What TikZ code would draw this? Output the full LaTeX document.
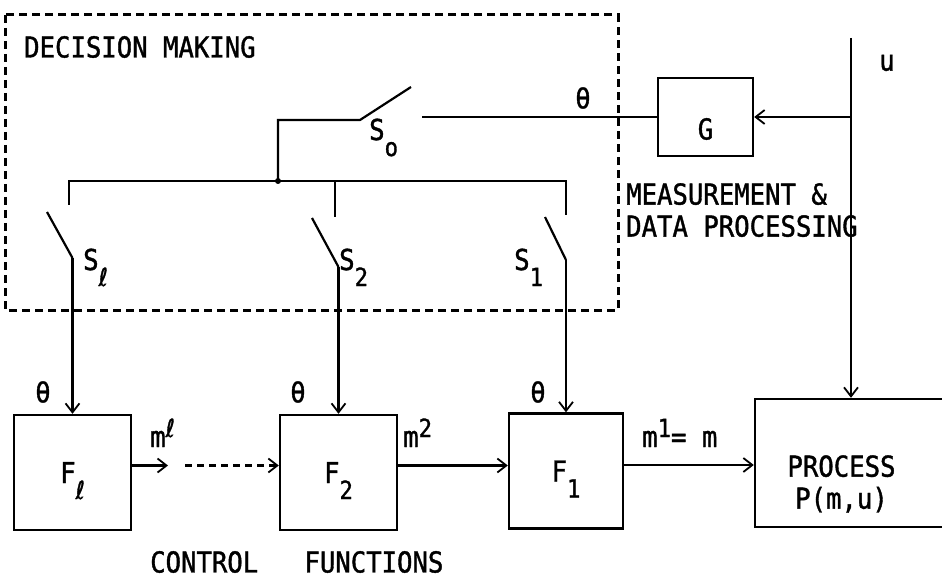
\documentclass[tikz,border=0pt]{standalone}
\usepackage{fontspec}
\setmainfont{DejaVu Sans Mono}[FakeStretch=0.89, FakeBold=1.3]
\newfontfamily\scriptl{DejaVu Sans}[FakeStretch=0.89, FakeBold=1.3]
\usetikzlibrary{arrows.meta}

\newcommand{\lsym}{{\scriptl ℓ}}
\newcommand{\dsub}[1]{\raisebox{-16pt}{\fontsize{25}{25}\selectfont #1}}
\newcommand{\usup}[1]{\raisebox{10pt}{\fontsize{25}{25}\selectfont #1}}

\tikzset{
    lbl/.style={font=\fontsize{28.8}{32}\selectfont, inner sep=0pt},
    blk/.style={draw, lbl, line width=2.4pt, minimum width=117pt, minimum height=115pt, text depth=0pt},
    wire/.style={line width=2.2pt},
    sig/.style={wire, -{Straight Barb[length=9pt,width=14pt,line width=1.8pt]}},
    frame/.style={line width=3pt, dash pattern=on 8pt off 5pt},
}

\begin{document}
\begin{tikzpicture}[x=1pt, y=-1pt]
    \useasboundingbox (0,0) rectangle (942,580);

    % decision making
    \draw[frame] (5,15) rectangle (618,310);
    \node[lbl, anchor=west] (dm) at (24,47) {DECISION MAKING};

    % blocks
    \node[blk] (fl) at (72.5,472.5) {F\dsub{\lsym}};
    \node[blk] (ftwo) at (338.5,472.5) {F\dsub{2}};
    \node[blk, minimum width=114pt] (fone) at (566,471) {F\dsub{1}};
    \node[blk, minimum width=95pt, minimum height=78pt,
          label={[lbl, yshift=-12pt]center:G}] (gbox) at (705.5,117) {};
    \node[blk, minimum width=189pt, minimum height=128pt,
          label={[lbl, align=center, xshift=-8pt, yshift=-21pt]center:{PROCESS\\P(m,u)}}] (proc) at (849.5,463) {};

    % switch points
    \coordinate (jct) at (278,181);
    \coordinate (szero-piv) at (360,120);
    \coordinate (szero-tip) at (411,87);
    \coordinate (szero-ct) at (422,117);
    \coordinate (sl-top) at (69,205);
    \coordinate (sl-tip) at (47,212);
    \coordinate (sl-piv) at (72.5,258);
    \coordinate (stwo-top) at (335,217);
    \coordinate (stwo-tip) at (312,218);
    \coordinate (stwo-piv) at (338.5,267);
    \coordinate (sone-top) at (566,215);
    \coordinate (sone-tip) at (545,217);
    \coordinate (sone-piv) at (566,260);
    \coordinate (utop) at (851,38);
    \coordinate (ujn) at (851,117);

    % bus and switches
    \draw[wire] (sl-top) |- (jct) -| (sone-top);
    \draw[wire] (jct -| stwo-top) -- (stwo-top);
    \draw[wire] (jct) |- (szero-piv) -- (szero-tip);
    \fill (jct) circle (3pt);
    \draw[wire] (szero-ct) -- (gbox.west);
    \draw[wire] (sl-tip) -- (sl-piv);
    \draw[wire] (stwo-tip) -- (stwo-piv);
    \draw[wire] (sone-tip) -- (sone-piv);
    \draw[sig] (sl-piv) -- (fl.north);
    \draw[sig] (stwo-piv) -- (ftwo.north);
    \draw[sig] (sone-piv) -- (fone.north);

    \node[lbl, anchor=base west] (slbl-0) at (369,140) {S\dsub{o}};
    \node[lbl, anchor=base west] (slbl-l) at (83,270) {S\dsub{\lsym}};
    \node[lbl, anchor=base west] (slbl-2) at (339,270) {S\dsub{2}};
    \node[lbl, anchor=base west] (slbl-1) at (514,270) {S\dsub{1}};

    % input u and measurement
    \draw[sig] (utop) -- (utop |- proc.north);
    \draw[sig] (ujn) -- (gbox.east);
    \node[lbl] (ulbl) at (887,63) {u};
    \node[lbl] (thg) at (583,98) {θ};
    \node[lbl, anchor=north west, align=left] (mdp) at (626,183) {MEASUREMENT \&\\DATA PROCESSING};

    % control chain
    \coordinate (mlend) at (168,465.5);
    \coordinate (mdots) at (185,465.5);
    \draw[sig] ([yshift=7pt]fl.east) -- (mlend);
    \draw[sig, dash pattern=on 7pt off 5pt] (mdots) -- (ftwo.west |- mdots);
    \draw[sig] ([yshift=7pt]ftwo.east) -- ([yshift=7pt]ftwo.east -| fone.west);
    \draw[sig] ([yshift=6pt]fone.east) -- ([yshift=6pt]fone.east -| proc.west);

    \node[lbl, anchor=base west] (ml) at (150,447) {m\usup{\lsym}};
    \node[lbl, anchor=base west] (mtwo) at (403,447) {m\usup{2}};
    \node[lbl, anchor=base west] (mone) at (642,447) {m\usup{1}= m};
    \node[lbl] (thl) at (43,392) {θ};
    \node[lbl] (thtwo) at (298,392) {θ};
    \node[lbl] (thone) at (538,392) {θ};

    \node[lbl, anchor=west] (cf) at (150,562) {CONTROL\ \ \ FUNCTIONS};
\end{tikzpicture}
\end{document}
